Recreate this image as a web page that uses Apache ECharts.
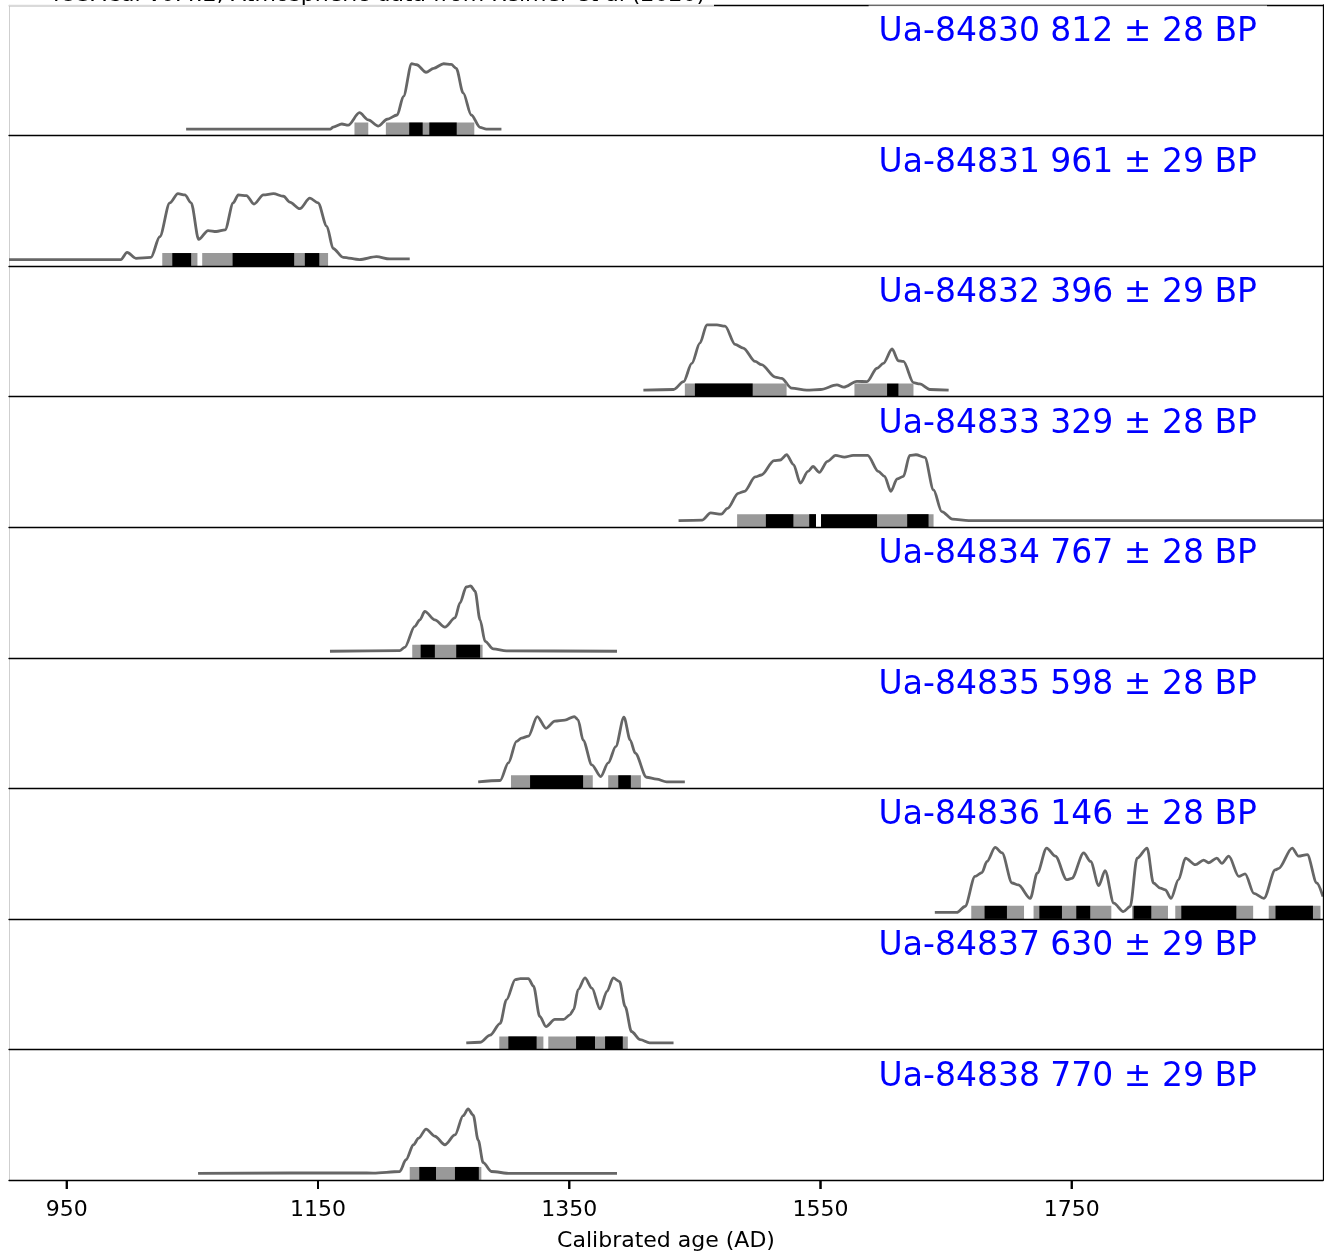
<!DOCTYPE html>
<html>
<head>
<meta charset="utf-8">
<script src="https://cdn.jsdelivr.net/npm/echarts@6/dist/echarts.min.js"></script>
<style>
html,body{margin:0;padding:0;background:#fff;}
#chart{width:1324px;height:1257px;}
</style>
</head>
<body>
<div id="chart"></div>
<script>
// ---- DATA ----
const sampleLabels = [
  'Ua-84830 812 ± 28 BP','Ua-84831 961 ± 29 BP','Ua-84832 396 ± 29 BP',
  'Ua-84833 329 ± 28 BP','Ua-84834 767 ± 28 BP','Ua-84835 598 ± 28 BP',
  'Ua-84836 146 ± 28 BP','Ua-84837 630 ± 29 BP','Ua-84838 770 ± 29 BP'
];
const tickValues = [950, 1150, 1350, 1550, 1750];
const xTitle = 'Calibrated age (AD)';
const headerText = 'IOSACal v0.4.2; Atmospheric data from Reimer et al (2020)';

// calibrated densities [year AD, relative probability]
const dens84830 = [[1045,0],[1160,0],[1162,0.03],[1169,0.077],[1174,0.06],[1183,0.25],[1190,0.14],[1198,0.046],[1205,0.15],[1213,0.215],[1218,0.5],[1224.5,1.0],[1228.5,0.985],[1236,0.87],[1242,0.93],[1250,1.0],[1256,0.99],[1260,0.93],[1265.6,0.55],[1272,0.215],[1279,0.025],[1284,0],[1296,0]];
const dens84831 = [[904,0],[993,0],[998,0.11],[1005,0.02],[1017,0.035],[1024,0.35],[1032,0.87],[1038.5,1.01],[1044,0.99],[1049,0.87],[1055,0.31],[1062.5,0.445],[1069,0.43],[1076,0.455],[1082.5,0.87],[1086.5,0.99],[1093,0.98],[1099,0.85],[1106.5,0.99],[1114.5,1.01],[1122.5,0.97],[1127.5,0.88],[1135.5,0.78],[1143.5,0.94],[1150,0.87],[1157,0.51],[1162,0.17],[1170,0.035],[1183,0],[1196.5,0.045],[1207,0.01],[1223,0.01]];
const dens84832 = [[1409,0],[1433,0.01],[1441,0.13],[1447.5,0.41],[1454,0.72],[1459.5,1.0],[1467.5,1.0],[1474,0.98],[1482,0.70],[1488.5,0.645],[1498,0.44],[1503,0.39],[1514,0.20],[1519,0.18],[1527,0.03],[1539,0],[1550,0.01],[1563,0.08],[1568.5,0.045],[1579,0.135],[1587,0.13],[1595,0.335],[1600,0.41],[1607,0.63],[1612,0.45],[1616,0.44],[1624,0.115],[1629,0.095],[1637,0.01],[1652,0]];
const dens84833 = [[1437,0],[1456,0.01],[1462.5,0.12],[1471,0.10],[1476,0.19],[1484.5,0.42],[1489.5,0.45],[1498,0.67],[1503,0.70],[1513,0.92],[1518,0.93],[1523,1.01],[1528.5,0.86],[1534,0.575],[1540,0.755],[1544,0.83],[1549,0.74],[1555.5,0.91],[1562,1.0],[1569,0.975],[1576,1.0],[1587.5,1.0],[1596,0.755],[1601,0.68],[1606,0.45],[1611,0.64],[1616,0.68],[1621,1.0],[1626,1.01],[1633,0.97],[1640,0.47],[1646.5,0.14],[1655,0.025],[1668,0],[1950,0]];
const dens84834 = [[1159.5,0],[1215,0.01],[1219,0.06],[1227,0.38],[1231,0.48],[1235,0.61],[1243,0.48],[1251,0.37],[1259,0.51],[1263,0.74],[1268,0.985],[1271.5,1.0],[1275,0.92],[1279,0.48],[1283,0.15],[1289.5,0.035],[1300,0.005],[1388,0]];
const dens84835 = [[1277.5,0],[1295,0.02],[1301.5,0.29],[1308,0.62],[1312,0.67],[1317.5,0.70],[1324.5,1.0],[1331.5,0.82],[1338.5,0.93],[1346.5,0.945],[1354,1.0],[1357,0.95],[1361,0.64],[1368,0.26],[1375,0.08],[1381,0.29],[1387,0.54],[1393.5,0.99],[1398.5,0.64],[1402.5,0.44],[1411.5,0.07],[1419.5,0.04],[1427.5,0],[1442,0]];
const dens84836 = [[1641,0],[1658.5,0],[1665,0.09],[1673,0.55],[1678.5,0.61],[1682.5,0.78],[1689,0.995],[1694.5,0.91],[1702.5,0.45],[1707.5,0.42],[1717,0.215],[1722.5,0.60],[1730,0.985],[1737,0.86],[1746,0.50],[1750,0.52],[1759.5,0.91],[1765,0.78],[1771.5,0.41],[1776.5,0.64],[1783.5,0.14],[1791,0.01],[1796.5,0.09],[1802,0.83],[1810,0.985],[1815,0.45],[1820.5,0.37],[1824.5,0.345],[1829,0.215],[1835,0.50],[1840.5,0.83],[1848.5,0.73],[1855,0.80],[1859,0.76],[1865.5,0.83],[1869.5,0.75],[1875,0.86],[1883,0.55],[1888,0.59],[1895,0.29],[1903,0.215],[1912,0.65],[1914.5,0.67],[1925.5,0.985],[1930.5,0.86],[1937.5,0.885],[1945,0.45],[1950,0.24]];
const dens84837 = [[1268,0],[1279,0.01],[1287,0.12],[1295,0.30],[1300,0.66],[1307,0.97],[1311,0.985],[1317.5,0.985],[1321.5,0.87],[1326.5,0.405],[1331.5,0.25],[1338.5,0.36],[1345.5,0.36],[1350.5,0.43],[1353.5,0.51],[1357,0.815],[1362.5,0.995],[1368,0.84],[1374.5,0.52],[1380,0.79],[1385,0.995],[1390,0.94],[1394.5,0.555],[1399.5,0.175],[1406.5,0.05],[1414,0],[1433,0]];
const dens84838 = [[1054.5,0],[1183.5,0.01],[1194,0.005],[1215,0.03],[1220,0.21],[1226,0.44],[1230,0.54],[1236,0.68],[1243,0.57],[1251,0.44],[1259,0.59],[1265.5,0.885],[1269.5,0.99],[1273.5,0.895],[1277.5,0.51],[1281.5,0.165],[1288,0.03],[1303,0],[1388,0]];

// calibrated ranges [from, to] in years AD
const r95_84830 = [[1179,1190],[1204,1274.4]];
const r68_84830 = [[1222.6,1233.3],[1238.6,1260.4]];
const r95_84831 = [[1026,1054],[1057.8,1158]];
const r68_84831 = [[1034,1049],[1082,1131],[1139.5,1151]];
const r95_84832 = [[1442,1523],[1577,1624]];
const r68_84832 = [[1450,1496],[1603,1612]];
const r95_84833 = [[1483.6,1546.4],[1550.4,1640]];
const r68_84833 = [[1506.5,1528.4],[1541,1546.4],[1550.4,1595],[1619,1636]];
const r95_84834 = [[1225,1281]];
const r68_84834 = [[1231.7,1243],[1260,1279]];
const r95_84835 = [[1303.6,1368.7],[1381,1407]];
const r68_84835 = [[1318.8,1361],[1389,1399]];
const r95_84836 = [[1670,1712],[1719.6,1781.5],[1798,1826.6],[1832.4,1894.4],[1906.8,1948]];
const r68_84836 = [[1680.6,1698.4],[1724.2,1742.2],[1753.6,1764.7],[1799.2,1813.3],[1837.2,1881],[1912.2,1942]];
const r95_84837 = [[1294.3,1329.4],[1333.3,1396.6]];
const r68_84837 = [[1301.5,1324],[1355.4,1370.5],[1378.5,1392.6]];
const r95_84838 = [[1223,1280]];
const r68_84838 = [[1230.6,1243.9],[1259,1278]];

const densities = [dens84830,dens84831,dens84832,dens84833,dens84834,dens84835,dens84836,dens84837,dens84838];
const ranges95 = [r95_84830,r95_84831,r95_84832,r95_84833,r95_84834,r95_84835,r95_84836,r95_84837,r95_84838];
const ranges68 = [r68_84830,r68_84831,r68_84832,r68_84833,r68_84834,r68_84835,r68_84836,r68_84837,r68_84838];

// ---- LAYOUT / STYLE ----
const W = 1324, TOP = 5, BOTTOM = 1180, LEFT = 9, RIGHT = 1323;
const N = sampleLabels.length;
const H = (BOTTOM - TOP) / N;
const XMIN = 904, XMAX = 1950;
const YMIN = -0.1, YMAX = 1.9;
const FONT = 'DejaVu Sans';
const TICK_LEN = 9;

const chart = echarts.init(document.getElementById('chart'), null, {renderer: 'canvas'});

const grids = [], xAxes = [], yAxes = [], series = [], titles = [];

function renderBar(params, api) {
  const a = api.coord([api.value(0), 0.1]);
  const b = api.coord([api.value(1), YMIN]);
  return {
    type: 'rect',
    shape: {x: a[0], y: a[1], width: b[0] - a[0], height: b[1] - a[1]},
    style: {fill: api.value(2) === 68 ? '#000000' : '#999999'}
  };
}

for (let i = 0; i < N; i++) {
  const last = i === N - 1;
  grids.push({left: LEFT, width: RIGHT - LEFT, top: TOP + i * H, height: H, containLabel: false});
  xAxes.push({
    type: 'value', gridIndex: i, min: XMIN, max: XMAX, position: 'bottom', z: 10,
    axisLine: {show: true, onZero: false, lineStyle: {color: '#000', width: 1.3}},
    axisTick: {show: false},
    axisLabel: {show: last, customValues: tickValues, formatter: v => String(v), fontSize: 22, fontFamily: FONT, color: '#000', margin: 19},
    splitLine: {show: false},
    name: last ? xTitle : '', nameLocation: 'middle', nameGap: 50,
    nameTextStyle: {fontSize: 22, fontFamily: FONT, color: '#000'}
  });
  yAxes.push({
    type: 'value', gridIndex: i, min: YMIN, max: YMAX, position: 'left',
    axisLine: {show: true, onZero: false, lineStyle: {color: '#cfcfcf', width: 1}},
    axisTick: {show: false}, axisLabel: {show: false}, splitLine: {show: false}
  });
  yAxes.push({
    type: 'value', gridIndex: i, min: YMIN, max: YMAX, position: 'right', z: 10,
    axisLine: {show: true, onZero: false, lineStyle: {color: '#000', width: 1.3}},
    axisTick: {show: false}, axisLabel: {show: false}, splitLine: {show: false}
  });
  series.push({
    type: 'line', xAxisIndex: i, yAxisIndex: 2 * i, data: densities[i],
    showSymbol: false, symbol: 'none', smooth: 0.3, smoothMonotone: 'x',
    lineStyle: {color: '#666666', width: 2.8}, z: 2, silent: true, animation: false
  });
  const barData = ranges95[i].map(r => [r[0], r[1], 95]).concat(ranges68[i].map(r => [r[0], r[1], 68]));
  series.push({
    type: 'custom', xAxisIndex: i, yAxisIndex: 2 * i, data: barData,
    dimensions: ['from', 'to', 'level'], encode: {x: [0, 1]},
    renderItem: renderBar, z: 3, silent: true, animation: false
  });
  titles.push({
    text: sampleLabels[i], right: W - 1267, top: TOP + i * H + 0.5,
    padding: [8, 10, 2, 10], backgroundColor: 'rgba(255,255,255,0.82)',
    textStyle: {fontSize: 33, fontFamily: FONT, fontWeight: 'normal', color: '#0000ff', lineHeight: 38}
  });
}
// tick marks below the bottom axis: rect symbols placed through the bottom panel's scales
series.push({
  type: 'scatter', xAxisIndex: N - 1, yAxisIndex: 2 * (N - 1),
  data: tickValues.map(v => [v, YMIN]),
  symbol: 'rect', symbolSize: [2, TICK_LEN], symbolOffset: [0, TICK_LEN / 2],
  itemStyle: {color: '#000000', opacity: 1}, clip: false, z: 20, silent: true, animation: false
});
// top border of first panel
xAxes.push({
  type: 'value', gridIndex: 0, min: XMIN, max: XMAX, position: 'top', z: 0,
  axisLine: {show: true, onZero: false, lineStyle: {color: '#000', width: 1.3}},
  axisTick: {show: false}, axisLabel: {show: false}, splitLine: {show: false}
});

const headerGraphics = [
  {type: 'rect', z: 20, shape: {x: 0, y: 0, width: 714, height: 6.5}, style: {fill: 'rgba(255,255,255,0.85)'}},
  {type: 'text', z: 21, style: {text: headerText, x: 705, y: 6, align: 'right', verticalAlign: 'bottom', fontSize: 22, fontFamily: FONT, fill: '#000'}}
];

chart.setOption({
  animation: false,
  backgroundColor: '#ffffff',
  title: titles,
  grid: grids,
  xAxis: xAxes,
  yAxis: yAxes,
  series: series,
  graphic: headerGraphics
});

// same tick marks as graphic elements, located through the bottom panel's x scale
let tickGraphics = [];
try {
  tickGraphics = tickValues.map(v => {
    const p = chart.convertToPixel({gridIndex: N - 1}, [v, YMIN]);
    return {type: 'rect', z: 40, shape: {x: p[0] - 1, y: p[1], width: 2, height: TICK_LEN}, style: {fill: '#000000'}};
  });
} catch (e) { tickGraphics = []; }
if (tickGraphics.length) {
  chart.setOption({graphic: {elements: headerGraphics.concat(tickGraphics)}});
}
</script>
</body>
</html>
